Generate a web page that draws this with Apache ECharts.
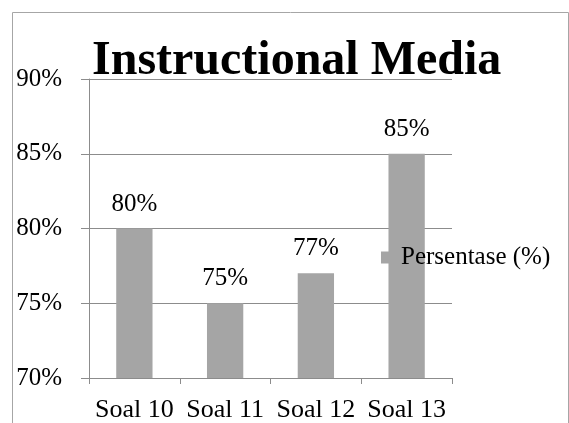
<!DOCTYPE html>
<html>
<head>
<meta charset="utf-8">
<script src="https://cdn.jsdelivr.net/npm/echarts@6/dist/echarts.min.js"></script>
<style>
html,body{margin:0;padding:0;background:#fff;}
#chart{width:569px;height:423px;}
</style>
</head>
<body>
<div id="chart"></div>
<script>
const titleText = 'Instructional Media';
const categories = ['Soal 10', 'Soal 11', 'Soal 12', 'Soal 13'];
const seriesName = 'Persentase (%)';
const values = [80, 75, 77, 85];
const yMin = 70, yMax = 90, yStep = 5;

const FONT = "'Times New Roman', 'Liberation Serif', serif";
const chart = echarts.init(document.getElementById('chart'));
chart.setOption({
  backgroundColor: '#fff',
  animation: false,
  graphic: [{
    type: 'rect',
    shape: { x: 12.5, y: 12.5, width: 556, height: 430 },
    style: { fill: 'none', stroke: '#a6a6a6', lineWidth: 1 },
    silent: true
  }],
  title: {
    text: titleText,
    left: 92,
    top: 38,
    padding: 0,
    textStyle: { fontFamily: FONT, fontSize: 48, fontWeight: 'bold', color: '#000' }
  },
  legend: {
    data: [seriesName],
    left: 381,
    top: 245,
    padding: 0,
    icon: 'rect',
    itemWidth: 12,
    itemHeight: 12,
    textStyle: { fontFamily: FONT, fontSize: 25, color: '#000', padding: [0, 0, 0, 3] }
  },
  grid: { left: 89, right: 117, top: 79, bottom: 45, containLabel: false },
  xAxis: {
    type: 'category',
    data: categories,
    axisLine: { lineStyle: { color: '#8c8c8c', width: 1 } },
    axisTick: { show: true, length: 6, lineStyle: { color: '#8c8c8c' } },
    axisLabel: { fontFamily: FONT, fontSize: 26, color: '#000', margin: 19, interval: 0, hideOverlap: false }
  },
  yAxis: {
    type: 'value',
    min: yMin, max: yMax, interval: yStep,
    axisLine: { show: true, lineStyle: { color: '#8c8c8c', width: 1 } },
    axisTick: { show: true, length: 8, lineStyle: { color: '#8c8c8c' } },
    axisLabel: { fontFamily: FONT, fontSize: 25, color: '#000', margin: 27, formatter: '{value}%' },
    splitLine: { show: true, lineStyle: { color: '#8c8c8c', width: 1 } }
  },
  series: [{
    name: seriesName,
    type: 'bar',
    data: values,
    barWidth: '40%',
    itemStyle: { color: '#a5a5a5' },
    z: 1,
    label: {
      show: true,
      position: 'top',
      distance: 12,
      fontFamily: FONT,
      fontSize: 25,
      color: '#000',
      formatter: '{c}%'
    }
  }]
});
</script>
</body>
</html>
